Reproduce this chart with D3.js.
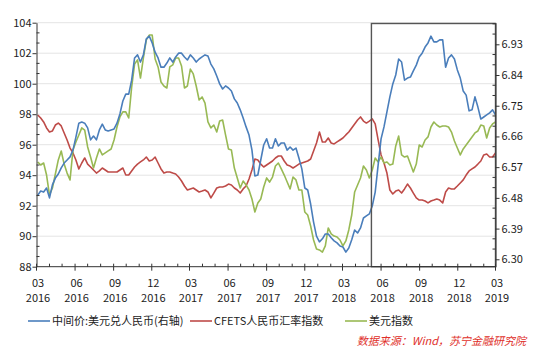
<!DOCTYPE html>
<html><head><meta charset="utf-8">
<script src="https://cdn.jsdelivr.net/npm/d3@7"></script>
<style>
html,body{margin:0;padding:0;background:#fff;}
svg text{font-family:"Noto Sans CJK SC","Noto Sans",sans-serif;fill:#222;}
</style></head>
<body><svg id="c" width="533" height="350"></svg>
<script>
// ---------- DATA ----------
const dates = [
"2016-03-04","2016-03-11","2016-03-18","2016-03-25","2016-04-01","2016-04-08","2016-04-15","2016-04-22","2016-04-29","2016-05-06",
"2016-05-13","2016-05-20","2016-05-27","2016-06-03","2016-06-10","2016-06-17","2016-06-24","2016-07-01","2016-07-08","2016-07-15",
"2016-07-22","2016-07-29","2016-08-05","2016-08-12","2016-08-19","2016-08-26","2016-09-02","2016-09-09","2016-09-16","2016-09-23",
"2016-09-30","2016-10-07","2016-10-14","2016-10-21","2016-10-28","2016-11-04","2016-11-11","2016-11-18","2016-11-25","2016-12-02",
"2016-12-09","2016-12-16","2016-12-23","2016-12-30","2017-01-06","2017-01-13","2017-01-20","2017-01-27","2017-02-03","2017-02-10",
"2017-02-17","2017-02-24","2017-03-03","2017-03-10","2017-03-17","2017-03-24","2017-03-31","2017-04-07","2017-04-14","2017-04-21",
"2017-04-28","2017-05-05","2017-05-12","2017-05-19","2017-05-26","2017-06-02","2017-06-09","2017-06-16","2017-06-23","2017-06-30",
"2017-07-07","2017-07-14","2017-07-21","2017-07-28","2017-08-04","2017-08-11","2017-08-18","2017-08-25","2017-09-01","2017-09-08",
"2017-09-15","2017-09-22","2017-09-29","2017-10-06","2017-10-13","2017-10-20","2017-10-27","2017-11-03","2017-11-10","2017-11-17",
"2017-11-24","2017-12-01","2017-12-08","2017-12-15","2017-12-22","2017-12-29","2018-01-05","2018-01-12","2018-01-19","2018-01-26",
"2018-02-02","2018-02-09","2018-02-16","2018-02-23","2018-03-02","2018-03-09","2018-03-16","2018-03-23","2018-03-30","2018-04-06",
"2018-04-13","2018-04-20","2018-04-27","2018-05-04","2018-05-11","2018-05-18","2018-05-25","2018-06-01","2018-06-08","2018-06-15",
"2018-06-22","2018-06-29","2018-07-06","2018-07-13","2018-07-20","2018-07-27","2018-08-03","2018-08-10","2018-08-17","2018-08-24",
"2018-08-31","2018-09-07","2018-09-14","2018-09-21","2018-09-28","2018-10-05","2018-10-12","2018-10-19","2018-10-26","2018-11-02",
"2018-11-09","2018-11-16","2018-11-23","2018-11-30","2018-12-07","2018-12-14","2018-12-21","2018-12-28","2019-01-04","2019-01-11",
"2019-01-18","2019-01-25","2019-02-01","2019-02-08","2019-02-15","2019-02-22","2019-03-01"];

// 中间价:美元兑人民币 (right axis)
const usdcnyValues = [
6.488,6.500,6.497,6.509,6.480,6.518,6.538,6.550,6.568,6.582,
6.591,6.600,6.620,6.658,6.699,6.702,6.699,6.685,6.650,6.661,
6.650,6.679,6.696,6.679,6.676,6.679,6.682,6.699,6.726,6.764,
6.784,6.784,6.825,6.890,6.899,6.878,6.899,6.946,6.954,6.934,
6.907,6.890,6.863,6.863,6.875,6.890,6.878,6.893,6.904,6.904,
6.893,6.884,6.899,6.890,6.878,6.887,6.893,6.899,6.896,6.872,
6.858,6.837,6.814,6.799,6.808,6.802,6.793,6.770,6.758,6.738,
6.714,6.688,6.664,6.620,6.544,6.547,6.591,6.635,6.653,6.626,
6.626,6.653,6.632,6.641,6.641,6.620,6.629,6.620,6.626,6.597,
6.565,6.509,6.503,6.462,6.409,6.368,6.351,6.360,6.374,6.374,
6.363,6.354,6.348,6.339,6.336,6.321,6.333,6.357,6.386,6.377,
6.392,6.421,6.427,6.433,6.456,6.497,6.576,6.653,6.688,6.732,
6.776,6.814,6.840,6.887,6.878,6.825,6.831,6.834,6.852,6.869,
6.893,6.904,6.922,6.934,6.954,6.937,6.937,6.943,6.943,6.863,
6.890,6.899,6.887,6.855,6.831,6.793,6.781,6.735,6.738,6.776,
6.746,6.711,6.717,6.723,6.729,6.738,6.723];

// CFETS人民币汇率指数 (left axis)
const cfetsValues = [
97.95,97.75,97.49,97.10,96.83,96.90,97.29,97.42,97.23,96.77,
96.31,95.78,95.46,95.00,94.41,94.80,95.13,94.73,94.54,94.34,
94.14,94.28,94.47,94.34,94.21,94.21,94.21,94.21,94.34,94.47,
94.01,94.01,94.28,94.54,94.73,94.87,95.00,95.19,94.93,95.00,
95.19,94.80,94.41,94.14,94.21,94.21,94.14,94.08,93.88,93.62,
93.29,93.03,93.10,93.16,93.03,92.90,92.96,93.03,92.90,92.51,
92.83,93.16,93.23,93.23,93.29,93.42,93.36,93.16,93.03,92.83,
93.10,93.29,93.75,94.34,95.06,95.00,94.73,94.54,94.67,94.80,
94.93,95.13,95.26,95.26,94.93,94.67,94.60,94.47,94.60,94.73,
94.80,94.87,94.93,95.06,95.59,96.11,96.83,96.18,96.18,96.44,
96.11,96.05,96.18,96.31,96.44,96.64,96.83,97.10,97.36,97.62,
97.82,97.55,97.42,97.55,97.69,97.36,96.31,95.33,94.80,94.14,
93.03,92.77,92.96,93.03,92.83,93.10,93.42,93.16,92.83,92.51,
92.37,92.37,92.31,92.18,92.31,92.37,92.44,92.37,92.18,92.90,
93.16,93.10,93.10,93.29,93.49,93.69,94.01,94.28,94.41,94.54,
94.73,94.93,95.33,95.39,95.19,95.19,95.46];

// 美元指数 (left axis)
const dxyValues = [
94.87,94.67,94.80,94.01,92.70,93.16,94.08,95.00,95.59,94.73,
94.14,93.69,95.65,96.18,96.64,97.10,96.96,95.85,95.19,94.47,
95.13,95.72,95.33,95.46,95.59,95.72,96.31,97.16,97.82,98.15,
98.15,97.75,99.78,101.29,101.56,100.37,101.69,102.87,103.19,103.19,
101.62,101.10,100.11,99.85,99.72,101.10,101.23,101.69,101.69,101.16,
99.72,99.85,100.96,100.64,99.85,98.93,99.13,98.73,97.49,97.10,
97.29,96.83,97.55,97.62,96.64,95.72,95.65,94.47,93.82,93.16,
93.62,93.36,93.03,92.44,91.59,92.18,92.44,93.23,93.82,93.55,
93.88,94.60,94.80,94.41,94.01,93.55,93.10,93.88,93.69,93.03,
93.03,91.59,91.39,90.67,89.75,89.16,89.10,88.96,89.36,90.54,
90.15,90.01,89.95,89.75,89.36,89.69,90.41,91.39,92.90,93.36,
93.82,94.60,94.34,93.82,94.34,95.13,94.87,95.19,94.80,94.87,
94.67,94.73,95.92,96.57,95.33,95.19,95.26,94.73,94.21,94.73,
95.98,95.85,96.31,96.51,97.16,97.49,97.29,97.16,97.23,97.23,
97.16,96.83,96.24,95.78,95.33,95.72,95.98,96.24,96.51,96.77,
96.90,97.29,97.23,96.44,97.10,97.36,97.49];

const leftTicks = [88,90,92,94,96,98,100,102,104];
const rightTicks = [6.30,6.39,6.48,6.57,6.66,6.75,6.84,6.93];
const xTickDates = ["2016-03-01","2016-06-01","2016-09-01","2016-12-01","2017-03-01","2017-06-01","2017-09-01","2017-12-01","2018-03-01","2018-06-01","2018-09-01","2018-12-01","2019-03-01"];
const seriesNames = ["中间价:美元兑人民币(右轴)","CFETS人民币汇率指数","美元指数"];
const highlightStart = "2018-05-09";
const sourceText = "数据来源：Wind，苏宁金融研究院";

// ---------- CHART ----------
const parse = d3.timeParse("%Y-%m-%d");
const svg = d3.select("#c");
const L = 36.5, R = 495.5, T = 22.7, B = 266.7;
const colors = {blue:"#4a7ebb", red:"#be4b48", green:"#98b954"};

const x = d3.scaleTime().domain([parse("2016-03-01"), parse("2019-03-01")]).range([L, R]);
const yL = d3.scaleLinear().domain([88, 104]).range([B, T]);
const yR = d3.scaleLinear().domain([6.2783, 6.9933]).range([B, T]);

// gridlines
svg.append("g").selectAll("line").data(leftTicks.filter(v => v > 88)).join("line")
  .attr("x1", L).attr("x2", R).attr("y1", d => yL(d)).attr("y2", d => yL(d))
  .attr("stroke", "#e4e4e4").attr("stroke-width", 1);

// lines
const series = [
  {vals: cfetsValues, y: yL, c: colors.red},
  {vals: dxyValues, y: yL, c: colors.green},
  {vals: usdcnyValues, y: yR, c: colors.blue}
];
series.forEach(s => {
  const pts = dates.map((d, i) => [parse(d), s.vals[i]]);
  svg.append("path").datum(pts)
    .attr("fill", "none").attr("stroke", s.c).attr("stroke-width", 1.6)
    .attr("stroke-linejoin", "round")
    .attr("d", d3.line().x(d => x(d[0])).y(d => s.y(d[1])));
});

// highlight box
const hx = x(parse(highlightStart));
svg.append("rect").attr("x", hx).attr("y", T + 0.8).attr("width", R - hx).attr("height", B - T - 0.8)
  .attr("fill", "none").attr("stroke", "#555").attr("stroke-width", 1.4);

const axisColor = "#333";
const fs = 11;

// left axis
const gL = svg.append("g").attr("transform", `translate(${L},0)`)
  .call(d3.axisLeft(yL).tickValues(leftTicks).tickSize(4).tickSizeOuter(0).tickFormat(d3.format("d")));
// left minor ticks (inside)
const leftMinor = d3.range(88, 104.001, 2/3).filter(v => Math.abs((v - 88) % 2) > 0.01 && Math.abs((v - 88) % 2 - 2) > 0.01);
gL.append("g").selectAll("line").data(leftMinor).join("line")
  .attr("x1", 0).attr("x2", 3).attr("y1", d => yL(d)).attr("y2", d => yL(d)).attr("stroke", axisColor);

// right axis
const gR = svg.append("g").attr("transform", `translate(${R},0)`)
  .call(d3.axisRight(yR).tickValues(rightTicks).tickSize(4).tickSizeOuter(0).tickFormat(d3.format(".2f")));
const rightMinor = d3.range(6.30, 6.9933, 0.03).concat([6.27]).filter(v => v > 6.2783 && v < 6.9934 && !rightTicks.some(t => Math.abs(t - v) < 0.001));
gR.append("g").selectAll("line").data(rightMinor).join("line")
  .attr("x1", 0).attr("x2", -3).attr("y1", d => yR(d)).attr("y2", d => yR(d)).attr("stroke", axisColor);

// bottom axis
const gB = svg.append("g").attr("transform", `translate(0,${B})`);
gB.append("line").attr("x1", L).attr("x2", R).attr("stroke", axisColor);
const months = d3.timeMonth.range(parse("2016-03-01"), d3.timeDay.offset(parse("2019-03-01"), 1));
gB.selectAll("line.m").data(months).join("line").attr("class", "m")
  .attr("x1", d => x(d)).attr("x2", d => x(d)).attr("y1", 0).attr("y2", -3).attr("stroke", axisColor);
const xt = xTickDates.map(parse);
gB.selectAll("line.q").data(xt).join("line").attr("class", "q")
  .attr("x1", d => x(d)).attr("x2", d => x(d)).attr("y1", 0).attr("y2", 4).attr("stroke", axisColor);
const fmtM = d3.timeFormat("%m"), fmtY = d3.timeFormat("%Y");
const lab = gB.selectAll("text").data(xt).join("text")
  .attr("x", d => x(d) + 1.5).attr("text-anchor", "middle").style("font-size", fs + "px");
lab.append("tspan").attr("x", d => x(d) + 1.5).attr("y", 20).text(d => fmtM(d));
lab.append("tspan").attr("x", d => x(d) + 1.5).attr("y", 35).text(d => fmtY(d));

[gL, gR].forEach(g => {
  g.select(".domain").attr("stroke", axisColor);
  g.selectAll(".tick line").attr("stroke", axisColor);
  g.selectAll(".tick text").style("font-size", fs + "px").attr("fill", "#222")
   .style("font-family", '"Noto Sans CJK SC","Noto Sans",sans-serif');
});
gL.selectAll(".tick text").attr("x", -5);
gR.selectAll(".tick text").attr("x", 6);

// legend
const legend = [
  {name: seriesNames[0], c: colors.blue, x: 28},
  {name: seriesNames[1], c: colors.red, x: 190},
  {name: seriesNames[2], c: colors.green, x: 345}
];
const lg = svg.append("g");
legend.forEach(l => {
  lg.append("line").attr("x1", l.x).attr("x2", l.x + 22).attr("y1", 321).attr("y2", 321)
    .attr("stroke", l.c).attr("stroke-width", 1.6);
  lg.append("text").attr("x", l.x + 24).attr("y", 321).attr("dy", "0.35em")
    .style("font-size", fs + "px").text(l.name);
});

// source
svg.append("text").attr("x", 526).attr("y", 341).attr("dy", "0.35em").attr("text-anchor", "end")
  .style("font-size", "11px").style("font-style", "italic").attr("fill", "#e0302a").style("fill", "#e0302a")
  .text(sourceText);
</script></body></html>
